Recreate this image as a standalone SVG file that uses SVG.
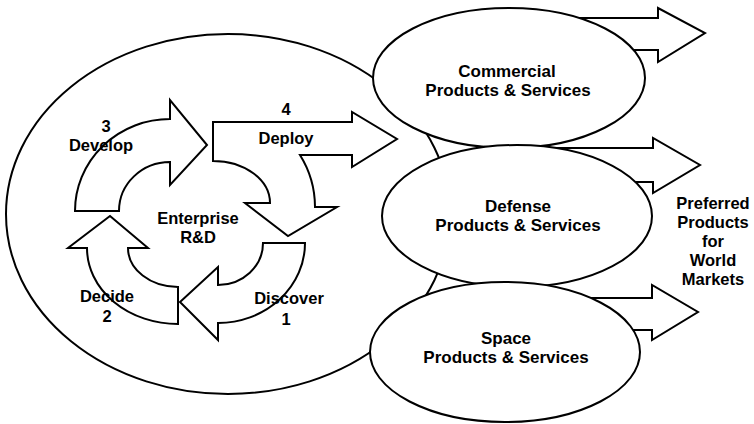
<svg xmlns="http://www.w3.org/2000/svg" width="754" height="424" viewBox="0 0 754 424">
<style>
.sh{fill:#fff;stroke:#000;stroke-width:2;stroke-linejoin:miter}
.t{font-family:"Liberation Sans",Arial,sans-serif;font-weight:bold;font-size:16.5px;fill:#000;text-anchor:middle}
.e{font-size:17px}
.r{font-size:16.5px}
</style>
<rect width="754" height="424" fill="#fff"/>
<g id="enterprise">
<ellipse class="sh" cx="228" cy="214" rx="222" ry="180"/>
</g>
<g id="connectors">
<path class="sh" d="M500 18 L658 18 L658 8 L705 33 L658 62 L658 50 L500 50 Z"/>
<path class="sh" d="M500 148 L653 148 L653 138 L700 165 L653 193 L653 182 L500 182 Z"/>
<path class="sh" d="M500 298 L652 298 L652 285 L698 312 L652 340 L652 330 L500 330 Z"/>
</g>
<g id="develop">
<path class="sh" d="M75 211 A95 92 0 0 1 170 119 L170 100 L207 145 L170 185 L170 162 A51 49 0 0 0 119 211 Z"/>
<text class="t" x="106" y="132">3</text>
<text class="t" x="101" y="151">Develop</text>
</g>
<g id="deploy">
<path class="sh" d="M213 122 L352 122 L352 112 L397 139 L352 167 L352 155 L300 155 A102 100 0 0 1 315 207 L337 207 L288 236 L245 203 L270 203 A57 42 0 0 0 213 161 Z"/>
<text class="t" x="286" y="115">4</text>
<text class="t" x="286" y="144">Deploy</text>
</g>
<g id="discover">
<path class="sh" d="M263 243 L305 243 A87 80 0 0 1 218 323 L218 340 L180 302 L218 267 L218 285 A45 42 0 0 0 263 243 Z"/>
<text class="t" x="289" y="304">Discover</text>
<text class="t" x="286" y="325">1</text>
</g>
<g id="decide">
<path class="sh" d="M178 287 L178 324 A91 76 0 0 1 87 248 L68 248 L110 216 L148 248 L128 248 A50 39 0 0 0 178 287 Z"/>
<text class="t" x="107" y="302">Decide</text>
<text class="t" x="107" y="322">2</text>
</g>
<g id="rd">
<text class="t" x="198" y="224">Enterprise</text>
<text class="t" x="198" y="243">R&amp;D</text>
</g>
<g id="commercial">
<ellipse class="sh" cx="509" cy="78" rx="136" ry="70"/>
<text class="t e" x="507" y="77">Commercial</text>
<text class="t e" x="508" y="96">Products &amp; Services</text>
</g>
<g id="defense">
<ellipse class="sh" cx="517" cy="216" rx="135" ry="71"/>
<text class="t e" x="518" y="212">Defense</text>
<text class="t e" x="518" y="231">Products &amp; Services</text>
</g>
<g id="space">
<ellipse class="sh" cx="505" cy="352" rx="135" ry="70"/>
<text class="t e" x="506" y="344">Space</text>
<text class="t e" x="506" y="363">Products &amp; Services</text>
</g>
<g id="markets">
<text class="t r" x="713" y="209">Preferred</text>
<text class="t r" x="713" y="228">Products</text>
<text class="t r" x="713" y="247">for</text>
<text class="t r" x="713" y="266">World</text>
<text class="t r" x="713" y="285">Markets</text>
</g>
</svg>
